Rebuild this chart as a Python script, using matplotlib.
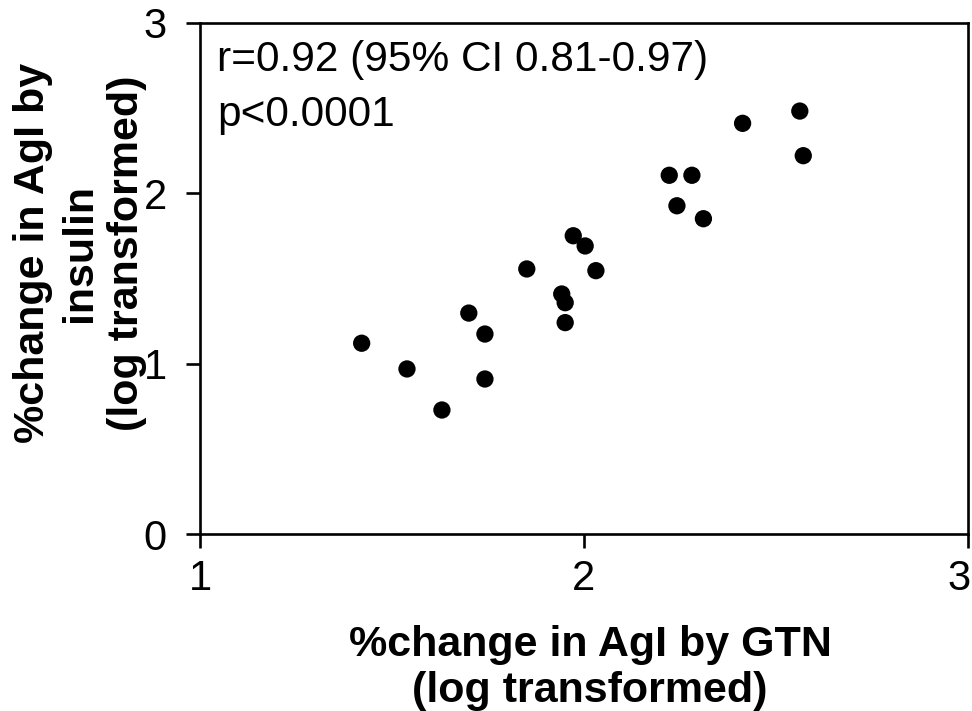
import matplotlib
matplotlib.use("Agg")
from matplotlib import pyplot as plt
from matplotlib.transforms import ScaledTranslation

# log-transformed % change in AgI
gtn = [1.421, 1.539, 1.630, 1.700, 1.742, 1.742, 1.851, 1.972, 2.003, 2.031,
       1.942, 1.951, 1.951, 2.222, 2.281, 2.242, 2.311, 2.413, 2.562, 2.571]
insulin = [1.120, 0.969, 0.728, 1.297, 1.174, 0.910, 1.556, 1.751, 1.691, 1.546,
           1.409, 1.358, 1.241, 2.106, 2.106, 1.927, 1.851, 2.411, 2.483, 2.221]

xticks = [1, 2, 3]
yticks = [0, 1, 2, 3]

stats_r = "r=0.92 (95% CI 0.81-0.97)"
stats_p = "p<0.0001"


def main():
    plt.rcParams["font.family"] = ["Liberation Sans", "DejaVu Sans"]

    fig = plt.figure(figsize=(9.72, 7.11), dpi=100)
    ax = fig.add_axes([200 / 972, 177 / 711, 768 / 972, 511 / 711])

    ax.scatter(gtn, insulin, s=155, color="black", edgecolors="none", zorder=3)

    ax.set_xlim(1, 3)
    ax.set_ylim(0, 3)
    ax.set_xticks(xticks)
    ax.set_yticks(yticks)
    ax.tick_params(axis="both", direction="out", length=10, width=1.9,
                   labelsize=30, color="black")
    ax.tick_params(axis="x", pad=8)
    ax.tick_params(axis="y", pad=14)
    for sp in ax.spines.values():
        sp.set_linewidth(1.9)
        sp.set_color("black")

    # keep the last x tick label inside the figure
    last = ax.get_xticklabels()[-1]
    last.set_transform(last.get_transform() +
                       ScaledTranslation(-0.09, 0, fig.dpi_scale_trans))

    ax.text(0.022, 0.906, stats_r, transform=ax.transAxes, fontsize=30.5,
            ha="left", va="baseline")
    ax.text(0.022, 0.798, stats_p, transform=ax.transAxes, fontsize=30.5,
            ha="left", va="baseline")

    fig.text(590 / 972, 1 - 668 / 711,
             "%change in AgI by GTN\n(log transformed)",
             fontsize=31, fontweight="bold", ha="center", va="center",
             multialignment="center", linespacing=1.22)
    fig.text(80 / 972, 1 - 253 / 711,
             "%change in AgI by\ninsulin\n(log transformed)",
             fontsize=31, fontweight="bold", ha="center", va="center",
             rotation=90, multialignment="center", linespacing=1.22)

    fig.savefig("out.png", dpi=100)


if __name__ == "__main__":
    main()
